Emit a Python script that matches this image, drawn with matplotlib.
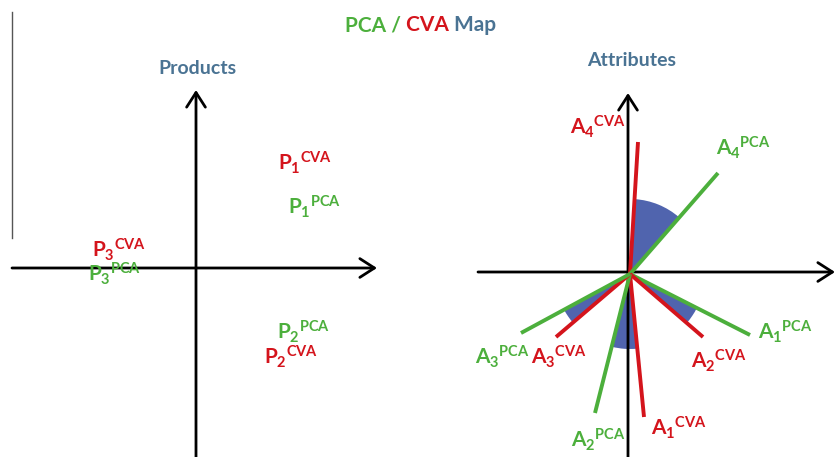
"""PCA / CVA map: products and attribute vectors, drawn as a schematic."""

import math

import matplotlib

matplotlib.use("Agg")

import matplotlib.pyplot as plt
from matplotlib.patches import Wedge

GREEN = "#4caf3c"
RED = "#d4141c"
WEDGE_BLUE = "#5064ae"
TITLE_BLUE = "#4a7393"

plt.rcParams["font.family"] = ["Lato", "DejaVu Sans"]
plt.rcParams["mathtext.fontset"] = "custom"
plt.rcParams["mathtext.rm"] = "Lato:bold"
plt.rcParams["mathtext.bf"] = "Lato:bold"
plt.rcParams["mathtext.it"] = "Lato:bold"

# --- data (diagram units, y downwards) --------------------------------------
product_labels = [r"{P_1}^{CVA}", r"{P_1}^{PCA}", r"{P_3}^{CVA}",
                  r"{P_3}^{PCA}", r"{P_2}^{PCA}", r"{P_2}^{CVA}"]
product_x = [278, 288, 92, 88, 277, 264]
product_y = [163, 207, 250, 274, 332, 357]
product_colors = [RED, GREEN, RED, GREEN, GREEN, RED]

attr_origin = (630, 274)
attr_names = ["A4CVA", "A4PCA", "A1PCA", "A2CVA", "A1CVA", "A2PCA", "A3CVA", "A3PCA"]
attr_end_x = [638, 718, 750, 703, 644, 595, 556, 521]
attr_end_y = [142, 173, 335, 337, 417, 413, 337, 333]
attr_colors = [RED, GREEN, GREEN, RED, RED, GREEN, RED, GREEN]

attr_labels = [r"{A_4}^{CVA}", r"{A_4}^{PCA}", r"{A_1}^{PCA}", r"{A_2}^{CVA}",
               r"{A_1}^{CVA}", r"{A_2}^{PCA}", r"{A_3}^{PCA}", r"{A_3}^{CVA}"]
attr_label_x = [570, 716, 758, 691, 651, 571, 475, 531]
attr_label_y = [127, 148, 332, 361, 428, 440, 357, 357]
attr_label_colors = [RED, GREEN, GREEN, RED, RED, GREEN, GREEN, RED]

# angle wedges between pairs of vectors (indices into attr_*)
wedge_pairs = [(0, 1), (2, 3), (7, 6), (5, 4)]
wedge_radius = 75

fig = plt.figure(figsize=(8.36, 4.57), dpi=100)
ax = fig.add_axes([0, 0, 1, 1])
ax.set_xlim(0, 836)
ax.set_ylim(457, 0)
ax.axis("off")


def arrow(ax, start, end):
    ax.annotate("", xy=end, xytext=start,
                arrowprops=dict(arrowstyle="->,head_length=0.7,head_width=0.45",
                                mutation_scale=15, lw=2, color="black",
                                shrinkA=0, shrinkB=0))


# thin grey line on the far left
ax.plot([12, 12], [12, 238], color="#555555", lw=1)

# products panel axes
arrow(ax, (12, 268), (377, 268))
arrow(ax, (196, 457), (196, 90))
# attributes panel axes
arrow(ax, (478, 272), (835, 272))
arrow(ax, (628, 457), (628, 93))

# wedges between paired vectors
ox, oy = attr_origin
for i, j in wedge_pairs:
    a1 = math.degrees(math.atan2(attr_end_y[i] - oy, attr_end_x[i] - ox))
    a2 = math.degrees(math.atan2(attr_end_y[j] - oy, attr_end_x[j] - ox))
    lo, hi = sorted((a1, a2))
    if hi - lo > 180:
        lo, hi = hi, lo + 360
    ax.add_patch(Wedge(attr_origin, wedge_radius, lo, hi,
                       facecolor=WEDGE_BLUE, edgecolor="none", zorder=1))

# attribute vectors
for ex, ey, c in zip(attr_end_x, attr_end_y, attr_colors):
    ax.plot([ox, ex], [oy, ey], color=c, lw=2.8, solid_capstyle="butt", zorder=3)

# labels
for lab, x, y, c in zip(product_labels, product_x, product_y, product_colors):
    ax.text(x, y, f"${lab}$", color=c, fontsize=15, ha="left", va="center", zorder=4)
for lab, x, y, c in zip(attr_labels, attr_label_x, attr_label_y, attr_label_colors):
    ax.text(x, y, f"${lab}$", color=c, fontsize=15, ha="left", va="center", zorder=4)

# panel titles
ax.text(197, 68, "Products", color=TITLE_BLUE, fontsize=14,
        fontweight="bold", ha="center", va="center")
ax.text(632, 60, "Attributes", color=TITLE_BLUE, fontsize=14,
        fontweight="bold", ha="center", va="center")

# main title in three colours
t1 = ax.text(345, 25, "PCA /", color=GREEN, fontsize=15, fontweight="bold",
             ha="left", va="center")
t2 = ax.annotate(" CVA", xy=(1, 0), xycoords=t1, color=RED, fontsize=15,
                 fontweight="bold", va="bottom")
ax.annotate(" Map", xy=(1, 0), xycoords=t2, color=TITLE_BLUE, fontsize=15,
            fontweight="bold", va="bottom")

fig.savefig("out.png", dpi=100)
